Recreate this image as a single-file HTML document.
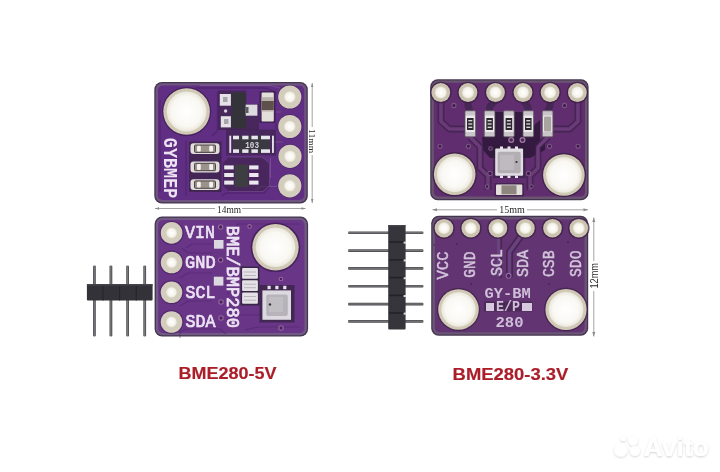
<!DOCTYPE html>
<html><head><meta charset="utf-8">
<style>
html,body{margin:0;padding:0;background:#fff;width:720px;height:472px;overflow:hidden}
svg{display:block;filter:blur(0.55px)}

</style></head>
<body>
<svg width="720" height="472" viewBox="0 0 720 472" font-family="Liberation Sans, sans-serif">
<defs>
  <radialGradient id="hole" cx="50%" cy="50%" r="50%">
    <stop offset="0%" stop-color="#ffffff"/>
    <stop offset="75%" stop-color="#f9f8f3"/>
    <stop offset="100%" stop-color="#ebe7dc"/>
  </radialGradient>
  <radialGradient id="pad" cx="50%" cy="50%" r="50%">
    <stop offset="0%" stop-color="#ffffff"/>
    <stop offset="70%" stop-color="#f6f4ec"/>
    <stop offset="100%" stop-color="#e4dfd2"/>
  </radialGradient>
  <linearGradient id="pinv" x1="0" y1="0" x2="1" y2="0">
    <stop offset="0" stop-color="#4a4a4e"/><stop offset=".45" stop-color="#7a7a7e"/><stop offset="1" stop-color="#444448"/>
  </linearGradient>
  <linearGradient id="pinh" x1="0" y1="0" x2="0" y2="1">
    <stop offset="0" stop-color="#4a4a4e"/><stop offset=".45" stop-color="#78787c"/><stop offset="1" stop-color="#444448"/>
  </linearGradient>
  <filter id="wm" x="-20%" y="-40%" width="140%" height="180%">
    <feGaussianBlur in="SourceAlpha" stdDeviation="1.3"/>
    <feOffset dx="0.3" dy="0.8" result="b"/>
    <feFlood flood-color="#000" flood-opacity=".18"/>
    <feComposite in2="b" operator="in"/>
    <feMerge><feMergeNode/><feMergeNode in="SourceGraphic"/></feMerge>
  </filter>
  <filter id="soft" x="-5%" y="-5%" width="110%" height="110%"><feGaussianBlur stdDeviation="0.45"/></filter>
  <filter id="soft2" x="-20%" y="-20%" width="140%" height="140%"><feGaussianBlur stdDeviation="0.7"/></filter>
</defs>
<rect width="720" height="472" fill="#fff"/>
<g id="b1">
<rect x="154.3" y="82" width="153.5" height="121.5" rx="7.5" fill="#45364f"/>
<rect x="155.60000000000002" y="83.3" width="150.9" height="118.9" rx="6.5" fill="#6e5580"/>
<rect x="157.9" y="85.6" width="146.3" height="114.3" rx="4.5" fill="#602f82" filter="url(#soft)"/>
<!-- traces / dark outlines -->
<g fill="none" stroke="#4a1c63" stroke-width="1.3" opacity=".55" filter="url(#soft)">
<path d="M196 88 H262 Q268 88 272 90.5 L277 94"/>
<path d="M212 136 L217.5 130.5 V92"/>
<path d="M276 123 V128 L280 131"/>
<path d="M186 141 V196"/>
<path d="M160 100 V192"/>
<path d="M222 196 L226 193 H264 L270 187"/>
</g>
<g fill="none" stroke="#8d62a4" stroke-width="1" opacity=".55" filter="url(#soft)">
<path d="M271 142 H283"/>
<path d="M255 189.5 L261 186.5 H275 L281 184.5"/>
<path d="M270.5 158 V178"/>
<path d="M200 85.5 H270 L280 88"/>
<path d="M276 112 H281"/>
</g>
<!-- dark clearance around hole -->
<circle cx="186.6" cy="111.5" r="24.6" fill="#3e1c52" opacity=".75"/>
<circle cx="186.6" cy="111.5" r="23.3" fill="#d0c9b6"/>
<circle cx="186.6" cy="111.5" r="19.9" fill="url(#hole)"/>
<!-- pads with dark clearance -->
<g fill="#43205a" opacity=".6">
<circle cx="289.8" cy="97" r="12.3"/><circle cx="289.8" cy="126.5" r="12.3"/><circle cx="290" cy="156.3" r="12.3"/><circle cx="289.8" cy="185.8" r="12.3"/>
</g>
<g fill="#d3cdbd">
<circle cx="289.8" cy="97" r="11.6"/><circle cx="289.8" cy="126.5" r="11.6"/><circle cx="290" cy="156.3" r="11.6"/><circle cx="289.8" cy="185.8" r="11.6"/>
</g>
<g fill="url(#pad)">
<circle cx="289.8" cy="97" r="5.8"/><circle cx="289.8" cy="126.5" r="5.8"/><circle cx="290" cy="156.3" r="5.8"/><circle cx="289.8" cy="185.8" r="5.8"/>
</g>
<!-- GYBMEP -->
<text transform="translate(164,137.8) rotate(90)" font-family="Liberation Mono" font-size="19.5" font-weight="bold" fill="#ece3f3" textLength="60.5" lengthAdjust="spacingAndGlyphs">GYBMEP</text>
<!-- regulator area -->
<path d="M218 90.5 H246 V104 H259 V130 H218 Z" fill="#35203f" opacity=".55" filter="url(#soft2)"/>
<rect x="231.4" y="92.4" width="14.8" height="36" fill="#35333a"/>
<rect x="245.7" y="104.6" width="11.7" height="11.1" fill="#dddbe0"/>
<rect x="246" y="107" width="2.5" height="6" fill="#5d5862"/>
<rect x="219.8" y="94" width="11.1" height="11.7" fill="#e4e2e6"/>
<rect x="220.8" y="116.2" width="10.1" height="11.2" fill="#e4e2e6"/>
<rect x="223" y="97" width="4.5" height="5" fill="#a8a4ac"/>
<rect x="224" y="119" width="4.5" height="5" fill="#a8a4ac"/>
<circle cx="225.6" cy="111" r="1.7" fill="#d8d4de"/>
<!-- inductor -->
<rect x="259.5" y="91" width="16" height="32" fill="#2f1d3a" opacity=".6" filter="url(#soft2)"/>
<rect x="261.6" y="92.4" width="12.2" height="29.1" rx="1" fill="#e2dfdb"/>
<rect x="261.6" y="97.2" width="12.2" height="14.3" fill="#b8b0aa"/>
<rect x="261.6" y="101" width="12.2" height="9" fill="#5e504b"/>
<!-- resistor array 103 -->
<rect x="226" y="129.5" width="50" height="26" fill="#33203e" opacity=".5" filter="url(#soft2)"/>
<rect x="229.3" y="135.7" width="1.9" height="17.2" fill="#e4e0e8"/>
<rect x="272" y="135.7" width="1.9" height="17.2" fill="#e4e0e8"/>
<rect x="233" y="135.7" width="37" height="17.2" fill="#3a3840"/>
<g fill="#e8e5ec">
<rect x="233" y="135.7" width="6" height="3.6"/><rect x="242.2" y="135.7" width="6.3" height="3.6"/><rect x="251.4" y="135.7" width="6.5" height="3.6"/><rect x="261" y="135.7" width="9" height="3.6"/>
<rect x="233" y="149.3" width="6" height="3.6"/><rect x="242.2" y="149.3" width="6.3" height="3.6"/><rect x="251.4" y="149.3" width="6.5" height="3.6"/><rect x="261" y="149.3" width="9" height="3.6"/>
</g>
<text x="252.1" y="147.9" font-family="Liberation Mono" font-weight="bold" font-size="9.6" fill="#d8d5dc" text-anchor="middle" textLength="13.7" lengthAdjust="spacingAndGlyphs">103</text>
<!-- SOT-23-6 -->
<path d="M229 157 H262 L269.5 163 V186 L263 191.5 H229 L223 186 V163 Z" fill="#3a2445" opacity=".6" filter="url(#soft2)"/>
<path d="M229 157 H262 L269.5 163 V186 L263 191.5 H229" fill="none" stroke="#7a4e8e" stroke-width="1" opacity=".6"/>
<rect x="235" y="164.5" width="12.8" height="22.5" fill="#3c3e42"/>
<g fill="#ebe9ee">
<rect x="224.2" y="165.4" width="9.5" height="4"/><rect x="224.2" y="173" width="9.5" height="4"/><rect x="224.2" y="180.6" width="9.5" height="4"/>
<rect x="249.2" y="165.4" width="9.3" height="4"/><rect x="249.2" y="173" width="9.3" height="4"/><rect x="249.2" y="180.6" width="9.3" height="4"/>
</g>
<!-- caps -->
<rect x="189" y="141.5" width="32.5" height="50.5" fill="#34223f" opacity=".65" filter="url(#soft2)"/>
<g fill="#e2dfdb">
<rect x="190.5" y="143.3" width="29" height="10.8" rx="3"/>
<rect x="190.5" y="161.6" width="29" height="10.8" rx="3"/>
<rect x="190.5" y="179.2" width="29" height="10.8" rx="3"/>
</g>
<g fill="#9b928a" stroke="#4c434a" stroke-width="1">
<rect x="194.5" y="145" width="21" height="7.4" rx="1"/>
<rect x="194.5" y="163.3" width="21" height="7.4" rx="1"/>
<rect x="194.5" y="180.9" width="21" height="7.4" rx="1"/>
</g>
<g fill="#f3f1ee">
<rect x="197" y="145.8" width="3.8" height="5.8" rx="1"/><rect x="209.2" y="145.8" width="3.8" height="5.8" rx="1"/>
<rect x="197" y="164.1" width="3.8" height="5.8" rx="1"/><rect x="209.2" y="164.1" width="3.8" height="5.8" rx="1"/>
<rect x="197" y="181.7" width="3.8" height="5.8" rx="1"/><rect x="209.2" y="181.7" width="3.8" height="5.8" rx="1"/>
</g>
</g>

<g id="b2">
<rect x="154.6" y="216.5" width="153.5" height="120" rx="7.5" fill="#45364f"/>
<rect x="155.9" y="217.8" width="150.9" height="117.4" rx="6.5" fill="#705a84"/>
<rect x="158.2" y="220.1" width="146.3" height="112.8" rx="4.5" fill="#673487" filter="url(#soft)"/>
<!-- traces -->
<g fill="none" stroke="#4a1f66" stroke-width="1.2" opacity=".45" filter="url(#soft)">
<path d="M186 248 L192 244 H212"/>
<path d="M182 248 L188 253 H212"/>
<path d="M180 278 L188 273 H212"/>
<path d="M180 306 L188 301 H212"/>
<path d="M180 338 V332 L186 329 H220 L226 334"/>
<path d="M215 282 H225 L228 285 V295"/>
<path d="M226 320 L236 315 H262"/>
<path d="M237 226 V224 H300"/>
<path d="M245 330 L258 327 H300"/>
<path d="M252 303 H240 L232 311"/>
</g>
<circle cx="275.5" cy="247.3" r="24.8" fill="#3e1c52" opacity=".8"/>
<circle cx="275.5" cy="247.3" r="23.2" fill="#d0c9b6"/>
<circle cx="275.5" cy="247.3" r="19.8" fill="url(#hole)"/>
<g>
<circle cx="171.6" cy="232.9" r="12" fill="#43205a" opacity=".65"/>
<circle cx="171.6" cy="262.5" r="12" fill="#43205a" opacity=".65"/>
<circle cx="171.5" cy="292.3" r="12" fill="#43205a" opacity=".65"/>
<circle cx="171.5" cy="322" r="12" fill="#43205a" opacity=".65"/>
<circle cx="171.6" cy="232.9" r="10.8" fill="#d3cdbd"/><circle cx="171.6" cy="232.9" r="5.4" fill="url(#pad)"/>
<circle cx="171.6" cy="262.5" r="10.8" fill="#d3cdbd"/><circle cx="171.6" cy="262.5" r="5.4" fill="url(#pad)"/>
<circle cx="171.5" cy="292.3" r="10.8" fill="#d3cdbd"/><circle cx="171.5" cy="292.3" r="5.4" fill="url(#pad)"/>
<circle cx="171.5" cy="322" r="10.8" fill="#d3cdbd"/><circle cx="171.5" cy="322" r="5.4" fill="url(#pad)"/>
</g>
<g fill="#ece3f3" stroke="#ece3f3" stroke-width="0.7" font-family="Liberation Mono" font-size="17.6">
<text x="185" y="238.2" textLength="30" lengthAdjust="spacingAndGlyphs">VIN</text>
<text x="185" y="267.7" textLength="30.6" lengthAdjust="spacingAndGlyphs">GND</text>
<text x="185.6" y="297.5" textLength="29.7" lengthAdjust="spacingAndGlyphs">SCL</text>
<text x="185.6" y="327.2" textLength="30" lengthAdjust="spacingAndGlyphs">SDA</text>
</g>
<text transform="translate(227.2,225.7) rotate(90)" font-family="Liberation Mono" font-size="18.4" fill="#ece3f3" stroke="#ece3f3" stroke-width="0.75" textLength="102.2" lengthAdjust="spacingAndGlyphs">BME/BMP280</text>
<g fill="#dcd8e0">
<rect x="214" y="240" width="9.5" height="8.7"/>
<rect x="213.8" y="276.7" width="9.6" height="8.9"/>
</g>
<g fill="#4a2357" stroke="#9468a2" stroke-width="1.1">
<circle cx="220.6" cy="227" r="2.2"/>
<circle cx="220.6" cy="260" r="2.2"/>
<circle cx="221" cy="302" r="2.2"/>
<circle cx="221" cy="318" r="2.2"/>
<circle cx="281" cy="328" r="2.2"/>
<circle cx="281" cy="279" r="1.8"/>
<circle cx="249.6" cy="226.4" r="1.8"/>
</g>
<!-- small resistors -->
<rect x="240.6" y="266.5" width="18.8" height="39" fill="#2d2035" opacity=".8" filter="url(#soft2)"/>
<g fill="#e4e1e6">
<rect x="242.1" y="268.1" width="15.8" height="10.7" rx="1"/>
<rect x="242.1" y="280.3" width="15.8" height="10.7" rx="1"/>
<rect x="242.1" y="292.5" width="15.8" height="11.2" rx="1"/>
</g>
<g fill="#b9b5bc">
<rect x="244" y="271.5" width="12" height="1"/><rect x="244" y="275" width="12" height="1"/>
<rect x="244" y="283.7" width="12" height="1"/><rect x="244" y="287.2" width="12" height="1"/>
<rect x="244" y="296" width="12" height="1"/><rect x="244" y="299.7" width="12" height="1"/>
</g>
<!-- BME280 sensor -->
<rect x="259.5" y="285" width="35" height="37.5" fill="#33203e" opacity=".7" filter="url(#soft2)"/>
<g fill="#e6e4ea">
<rect x="267.5" y="285.8" width="3.2" height="3.4"/><rect x="275.3" y="285.8" width="3.2" height="3.4"/><rect x="283.2" y="285.8" width="3.2" height="3.4"/>
</g>
<rect x="262.4" y="290.4" width="28.6" height="29.4" fill="#dcdae0"/>
<rect x="266.3" y="294.4" width="21.5" height="21.5" rx="2" fill="#b7b3ba"/>
<rect x="269" y="297" width="14" height="15" rx="1" fill="#c8c4ca" opacity=".6"/>
<circle cx="270" cy="304.5" r="1.2" fill="#333"/>
</g>

<g id="b3">
<rect x="430.2" y="79.2" width="158.4" height="121" rx="7.5" fill="#45364f"/>
<rect x="431.5" y="80.5" width="155.8" height="118.4" rx="6.5" fill="#6a5472"/>
<rect x="433.8" y="82.8" width="151.20000000000002" height="113.8" rx="4.5" fill="#612e6e" filter="url(#soft)"/>
<!-- central dark ground region -->
<g fill="#2c1834" opacity=".8" filter="url(#soft2)">
<rect x="495" y="112" width="9.5" height="30"/>
<rect x="514" y="112" width="9.5" height="30"/>
<path d="M482 137 H538 L545 144 V150 L530 158 H490 L483 150 Z"/>
<path d="M533 126 L540 120 V140 H533 Z"/>
</g>
<!-- traces: outline + inner -->
<g fill="none" stroke-linejoin="round" filter="url(#soft)">
<g stroke="#3e2149" stroke-width="7" opacity=".7">
<path d="M441 100 V121.5 L449.5 129 H466"/>
<path d="M578 100 V121.5 L569.5 129 H552"/>
<path d="M468 100 V106 L470 111"/>
<path d="M495.5 100 L489.5 107 V112"/>
<path d="M523 100 L528 107 V112"/>
<path d="M550 100 V106 L547.5 111"/>
<path d="M470 137 L480 147 V168 L488 176 V190"/>
<path d="M548 137 L538 147 V168 L530 176 V190"/>
</g>
<g stroke="#6a3a78" stroke-width="3.6">
<path d="M441 100 V121.5 L449.5 129 H466"/>
<path d="M578 100 V121.5 L569.5 129 H552"/>
<path d="M470 137 L480 147 V168 L488 176 V190"/>
<path d="M548 137 L538 147 V168 L530 176 V190"/>
</g>
</g>
<!-- pads -->
<g fill="#3a1f44" opacity=".75">
<circle cx="440.8" cy="92.5" r="10.8"/><circle cx="468" cy="92.5" r="10.8"/><circle cx="495.5" cy="92.5" r="10.8"/>
<circle cx="523" cy="92.5" r="10.8"/><circle cx="550.1" cy="92.5" r="10.8"/><circle cx="577.4" cy="92.5" r="10.8"/>
</g>
<g fill="#cbc4b0">
<circle cx="440.8" cy="92.5" r="9.4"/><circle cx="468" cy="92.5" r="9.4"/><circle cx="495.5" cy="92.5" r="9.4"/>
<circle cx="523" cy="92.5" r="9.4"/><circle cx="550.1" cy="92.5" r="9.4"/><circle cx="577.4" cy="92.5" r="9.4"/>
</g>
<g fill="url(#pad)">
<circle cx="440.8" cy="92.5" r="6.0"/><circle cx="468" cy="92.5" r="6.0"/><circle cx="495.5" cy="92.5" r="6.0"/>
<circle cx="523" cy="92.5" r="6.0"/><circle cx="550.1" cy="92.5" r="6.0"/><circle cx="577.4" cy="92.5" r="6.0"/>
</g>
<!-- holes -->
<circle cx="454.7" cy="174.3" r="22.3" fill="#3a1f44" opacity=".75"/>
<circle cx="454.7" cy="174.3" r="20.8" fill="#d0c9b6"/>
<circle cx="454.7" cy="174.3" r="17.8" fill="url(#hole)"/>
<circle cx="563.9" cy="175" r="22.3" fill="#3a1f44" opacity=".75"/>
<circle cx="563.9" cy="175" r="20.8" fill="#d0c9b6"/>
<circle cx="563.9" cy="175" r="17.8" fill="url(#hole)"/>
<!-- vias -->
<g fill="#3a1c44" stroke="#7c5486" stroke-width="1.1">
<circle cx="453.9" cy="105.5" r="2.1"/><circle cx="564.5" cy="105.5" r="2.1"/>
<circle cx="440" cy="146.2" r="2"/><circle cx="468.4" cy="146.2" r="2"/>
<circle cx="549.5" cy="146.2" r="2"/><circle cx="578" cy="146.2" r="2"/>
<circle cx="490" cy="173.5" r="2.2"/><circle cx="528.5" cy="173.5" r="2.2"/>
<circle cx="487" cy="186.6" r="1.8"/><circle cx="531.5" cy="186.6" r="1.8"/>
<circle cx="490.5" cy="148.5" r="1.8"/>
</g>
<g fill="#4a2a52" stroke="#a07aa6" stroke-width="1.2">
<circle cx="511.2" cy="140" r="2.4"/><circle cx="522.5" cy="140" r="2.4"/>
</g>
<!-- resistors -->
<rect x="465" y="110.8" width="10.6" height="26" rx="1.2" fill="#c9c5c8" stroke="#5e5a60" stroke-width=".7"/>
<rect x="465.8" y="115.5" width="9" height="16.5" fill="#eceaec"/>
<rect x="484.3" y="110.8" width="10.6" height="26" rx="1.2" fill="#c9c5c8" stroke="#5e5a60" stroke-width=".7"/>
<rect x="485.1" y="115.5" width="9" height="16.5" fill="#eceaec"/>
<rect x="503.6" y="110.8" width="10.6" height="26" rx="1.2" fill="#c9c5c8" stroke="#5e5a60" stroke-width=".7"/>
<rect x="504.40000000000003" y="115.5" width="9" height="16.5" fill="#eceaec"/>
<rect x="523" y="110.8" width="10.6" height="26" rx="1.2" fill="#c9c5c8" stroke="#5e5a60" stroke-width=".7"/>
<rect x="523.8" y="115.5" width="9" height="16.5" fill="#eceaec"/>
<rect x="542.3" y="110.8" width="10.6" height="26" rx="1.2" fill="#c9c5c8" stroke="#5e5a60" stroke-width=".7"/>
<rect x="543.0999999999999" y="115.5" width="9" height="16.5" fill="#eceaec"/>
<rect x="467" y="118" width="6.6" height="12" fill="#2c2a30"/>
<g fill="#d6d2d8"><rect x="468.3" y="120" width="4" height="1.4"/><rect x="468.3" y="123.3" width="4" height="1.4"/><rect x="468.3" y="126.6" width="4" height="1.4"/></g>
<rect x="486.3" y="118" width="6.6" height="12" fill="#2c2a30"/>
<g fill="#d6d2d8"><rect x="487.6" y="120" width="4" height="1.4"/><rect x="487.6" y="123.3" width="4" height="1.4"/><rect x="487.6" y="126.6" width="4" height="1.4"/></g>
<rect x="505.6" y="118" width="6.6" height="12" fill="#2c2a30"/>
<g fill="#d6d2d8"><rect x="506.90000000000003" y="120" width="4" height="1.4"/><rect x="506.90000000000003" y="123.3" width="4" height="1.4"/><rect x="506.90000000000003" y="126.6" width="4" height="1.4"/></g>
<rect x="525" y="118" width="6.6" height="12" fill="#2c2a30"/>
<g fill="#d6d2d8"><rect x="526.3" y="120" width="4" height="1.4"/><rect x="526.3" y="123.3" width="4" height="1.4"/><rect x="526.3" y="126.6" width="4" height="1.4"/></g>
<rect x="544" y="116.5" width="7.2" height="15" rx="1" fill="#aaa4a0"/>
<!-- sensor -->
<rect x="493" y="146.5" width="32.5" height="31.5" fill="#2f1a38" opacity=".55" filter="url(#soft2)"/>
<g fill="#e8e6ea">
<rect x="500" y="146.5" width="3" height="2.5"/><rect x="507.5" y="146.5" width="3" height="2.5"/><rect x="515" y="146.5" width="3" height="2.5"/>
<rect x="500" y="175.5" width="3" height="2.5"/><rect x="507.5" y="175.5" width="3" height="2.5"/><rect x="515" y="175.5" width="3" height="2.5"/>
</g>
<rect x="495.2" y="148.6" width="27.9" height="27.1" rx="1" fill="#e0dee2"/>
<rect x="497.6" y="151.8" width="23.1" height="21.5" rx="2" fill="#b2aeb4"/>
<rect x="500" y="155" width="14" height="15" rx="1" fill="#c6c2c8" opacity=".6"/>
<circle cx="516.5" cy="162" r="1.1" fill="#333"/>
<!-- bottom cap -->
<rect x="494.5" y="183" width="29.5" height="13.5" fill="#2f1a38" opacity=".5" filter="url(#soft2)"/>
<rect x="496" y="184.5" width="26.3" height="10.5" rx="1" fill="#e2dfdc"/>
<rect x="501.5" y="185.3" width="15" height="9" fill="#8e857f"/>
</g>

<g id="b4">
<rect x="431.2" y="215.8" width="157" height="120" rx="7.5" fill="#45364f"/>
<rect x="432.5" y="217.10000000000002" width="154.4" height="117.4" rx="6.5" fill="#6b5576"/>
<rect x="434.8" y="219.4" width="149.8" height="112.8" rx="4.5" fill="#623472" filter="url(#soft)"/>
<!-- SCL/SDA traces -->
<g fill="none" stroke-linecap="round" stroke-linejoin="round" filter="url(#soft)">
<path d="M498.6 236 V276" stroke="#3d2247" stroke-width="7" opacity=".75"/>
<path d="M498.6 236 V276" stroke="#6a4280" stroke-width="3.6"/>
<path d="M521 236 L509.5 252 V275" stroke="#3d2247" stroke-width="7" opacity=".75"/>
<path d="M521 236 L509.5 252 V275" stroke="#6a4280" stroke-width="3.6"/>
</g>
<circle cx="508.6" cy="275.8" r="2.4" fill="#4a2357" stroke="#9468a2" stroke-width="1.1"/>
<!-- pads -->
<g>
<circle cx="444" cy="228.2" r="10.8" fill="#3e2046" opacity=".75"/>
<circle cx="470.8" cy="228.2" r="10.8" fill="#3e2046" opacity=".75"/>
<circle cx="497.9" cy="228.2" r="10.8" fill="#3e2046" opacity=".75"/>
<circle cx="525.4" cy="228.2" r="10.8" fill="#3e2046" opacity=".75"/>
<circle cx="552.5" cy="228.2" r="10.8" fill="#3e2046" opacity=".75"/>
<circle cx="578.8" cy="228.2" r="10.8" fill="#3e2046" opacity=".75"/>
<circle cx="444" cy="228.2" r="9.3" fill="#cbc4b0"/><circle cx="444" cy="228.2" r="5.9" fill="url(#pad)"/>
<circle cx="470.8" cy="228.2" r="9.3" fill="#cbc4b0"/><circle cx="470.8" cy="228.2" r="5.9" fill="url(#pad)"/>
<circle cx="497.9" cy="228.2" r="9.3" fill="#cbc4b0"/><circle cx="497.9" cy="228.2" r="5.9" fill="url(#pad)"/>
<circle cx="525.4" cy="228.2" r="9.3" fill="#cbc4b0"/><circle cx="525.4" cy="228.2" r="5.9" fill="url(#pad)"/>
<circle cx="552.5" cy="228.2" r="9.3" fill="#cbc4b0"/><circle cx="552.5" cy="228.2" r="5.9" fill="url(#pad)"/>
<circle cx="578.8" cy="228.2" r="9.3" fill="#cbc4b0"/><circle cx="578.8" cy="228.2" r="5.9" fill="url(#pad)"/>
</g>
<circle cx="458.5" cy="309.5" r="21.7" fill="#3e2046" opacity=".7"/>
<circle cx="458.5" cy="309.5" r="20.3" fill="#d0c9b6"/>
<circle cx="458.5" cy="309.5" r="17.2" fill="url(#hole)"/>
<circle cx="566" cy="309.5" r="22" fill="#3e2046" opacity=".7"/>
<circle cx="566" cy="309.5" r="20.6" fill="#d0c9b6"/>
<circle cx="566" cy="309.5" r="17.4" fill="url(#hole)"/>
<g fill="#3b2342" opacity=".8">
<circle cx="457" cy="244" r=".9"/><circle cx="568" cy="242" r=".9"/><circle cx="434" cy="245" r=".8"/>
<circle cx="471" cy="284" r=".9"/><circle cx="549" cy="284" r=".9"/>
</g>
<g fill="#d2c4da" stroke="#d2c4da" stroke-width="0.5" font-family="Liberation Mono" font-size="16.5">
<text transform="translate(448,279.5) rotate(-90)" textLength="28" lengthAdjust="spacingAndGlyphs">VCC</text>
<text transform="translate(475,277.8) rotate(-90)" textLength="26.3" lengthAdjust="spacingAndGlyphs">GND</text>
<text transform="translate(501.5,276) rotate(-90)" textLength="27" lengthAdjust="spacingAndGlyphs">SCL</text>
<text transform="translate(528.2,277) rotate(-90)" textLength="27.2" lengthAdjust="spacingAndGlyphs">SDA</text>
<text transform="translate(554.3,277) rotate(-90)" textLength="26.5" lengthAdjust="spacingAndGlyphs">CSB</text>
<text transform="translate(581.3,277) rotate(-90)" textLength="26.5" lengthAdjust="spacingAndGlyphs">SDO</text>
</g>
<rect x="484" y="301.5" width="48.5" height="10" fill="#3b2144" opacity=".55"/>
<g fill="#cfbfd8" font-family="Liberation Mono" font-weight="bold" font-size="15">
<text x="484.6" y="298" textLength="46.2" lengthAdjust="spacingAndGlyphs">GY-BM</text>
<text x="496" y="311.2" textLength="24" lengthAdjust="spacingAndGlyphs">E/P</text>
<text x="495.5" y="327.2" textLength="28" lengthAdjust="spacingAndGlyphs">280</text>
</g>
<rect x="486" y="303" width="8" height="8" fill="#d6c8de"/>
<rect x="522" y="303" width="10" height="8" fill="#d6c8de"/>
</g>

<g id="hdr1">
<g fill="url(#pinv)">
<rect x="93" y="265.5" width="2.8" height="71" rx="1.1"/>
<rect x="109.5" y="265.5" width="2.8" height="71" rx="1.1"/>
<rect x="126.2" y="265.5" width="2.8" height="71" rx="1.1"/>
<rect x="143.3" y="265.5" width="2.8" height="71" rx="1.1"/>
</g>
<rect x="86.9" y="284" width="65.7" height="16.4" rx="1" fill="#323238"/>
<g fill="#26262b">
<rect x="102.4" y="284" width="1.2" height="16.4"/>
<rect x="119" y="284" width="1.2" height="16.4"/>
<rect x="135.7" y="284" width="1.2" height="16.4"/>
</g>
<rect x="86.9" y="284" width="65.7" height="1.6" fill="#44444b"/>
</g>
<g id="hdr2">
<g fill="url(#pinh)">
<rect x="348" y="231.5" width="75.5" height="2.6" rx="1"/>
<rect x="348" y="249.3" width="75.5" height="2.6" rx="1"/>
<rect x="348" y="267.1" width="75.5" height="2.6" rx="1"/>
<rect x="348" y="284.9" width="75.5" height="2.6" rx="1"/>
<rect x="348" y="302.8" width="75.5" height="2.6" rx="1"/>
<rect x="348" y="320.1" width="75.5" height="2.6" rx="1"/>
</g>
<rect x="388.2" y="225" width="17.4" height="104.6" rx="1" fill="#35353b"/>
<g fill="#222227">
<rect x="389" y="241.2" width="16" height="1.6"/>
<rect x="389" y="259" width="16" height="1.6"/>
<rect x="389" y="276.8" width="16" height="1.6"/>
<rect x="389" y="294.6" width="16" height="1.6"/>
<rect x="389" y="312.2" width="16" height="1.6"/>
</g>
<g fill="#45454c">
<rect x="388.2" y="225" width="17.4" height="1.4"/>
</g>
<g fill="#ffffff" opacity=".85">
<rect x="403.6" y="241.6" width="2.2" height="2"/>
<rect x="403.6" y="259.4" width="2.2" height="2"/>
<rect x="403.6" y="277.2" width="2.2" height="2"/>
<rect x="403.6" y="295" width="2.2" height="2"/>
<rect x="403.6" y="312.6" width="2.2" height="2"/>
</g>
</g>

<g stroke="#9a9a9a" stroke-width="0.9" fill="none">
<line x1="312.2" y1="83" x2="312.2" y2="127"/>
<line x1="312.2" y1="155" x2="312.2" y2="203"/>
<line x1="155" y1="208.5" x2="215" y2="208.5"/>
<line x1="242" y1="208.5" x2="305.5" y2="208.5"/>
<line x1="432.5" y1="209.8" x2="497" y2="209.8"/>
<line x1="527" y1="209.8" x2="588" y2="209.8"/>
<line x1="593.8" y1="217.5" x2="593.8" y2="261"/>
<line x1="593.8" y1="291" x2="593.8" y2="336.5"/>
</g>
<g fill="#8a8a8a">
<path d="M432.5 209.8 L437 208.3 V211.3 Z"/>
<path d="M155 208.5 L159 207.2 V209.8 Z"/>
<path d="M305.5 208.5 L301.5 207.2 V209.8 Z"/>
<path d="M312.2 83 L311 87 H313.4 Z"/>
<path d="M312.2 203 L311 199 H313.4 Z"/>
<path d="M588 209.8 L583.5 208.3 V211.3 Z"/>
<path d="M593.8 217.5 L592.3 222 H595.3 Z"/>
<path d="M593.8 336.5 L592.3 332 H595.3 Z"/>
</g>
<text x="217" y="212.6" font-family="Liberation Serif" font-size="10.5" fill="#2a2a2a" textLength="24" lengthAdjust="spacingAndGlyphs">14mm</text>
<text x="499.2" y="213.4" font-family="Liberation Serif" font-size="10.5" fill="#2a2a2a" textLength="25.6" lengthAdjust="spacingAndGlyphs">15mm</text>
<text transform="translate(308.8,129) rotate(90)" font-family="Liberation Serif" font-size="8.6" fill="#2a2a2a" textLength="24.2" lengthAdjust="spacingAndGlyphs">11mm</text>
<text transform="translate(597.5,288.6) rotate(-90)" font-size="10" fill="#2a2a2a" textLength="25.6" lengthAdjust="spacingAndGlyphs">12mm</text>

<text x="178.6" y="378.6" font-size="16.2" font-weight="bold" fill="#ab1d29" stroke="#ab1d29" stroke-width="0.15" textLength="98" lengthAdjust="spacingAndGlyphs">BME280-5V</text>
<text x="452.6" y="379.9" font-size="16.2" font-weight="bold" fill="#ab1d29" stroke="#ab1d29" stroke-width="0.15" textLength="115.8" lengthAdjust="spacingAndGlyphs">BME280-3.3V</text>

<g filter="url(#wm)" fill="#ffffff">
<circle cx="620.8" cy="450" r="6.6"/>
<circle cx="623.3" cy="438.5" r="2.6"/>
<circle cx="633.2" cy="441" r="4.6"/>
<circle cx="635" cy="451" r="5"/>
<text x="643.5" y="455.8" font-size="25" font-weight="bold" textLength="65.5" lengthAdjust="spacingAndGlyphs">Avito</text>
</g>

</svg>
</body></html>
